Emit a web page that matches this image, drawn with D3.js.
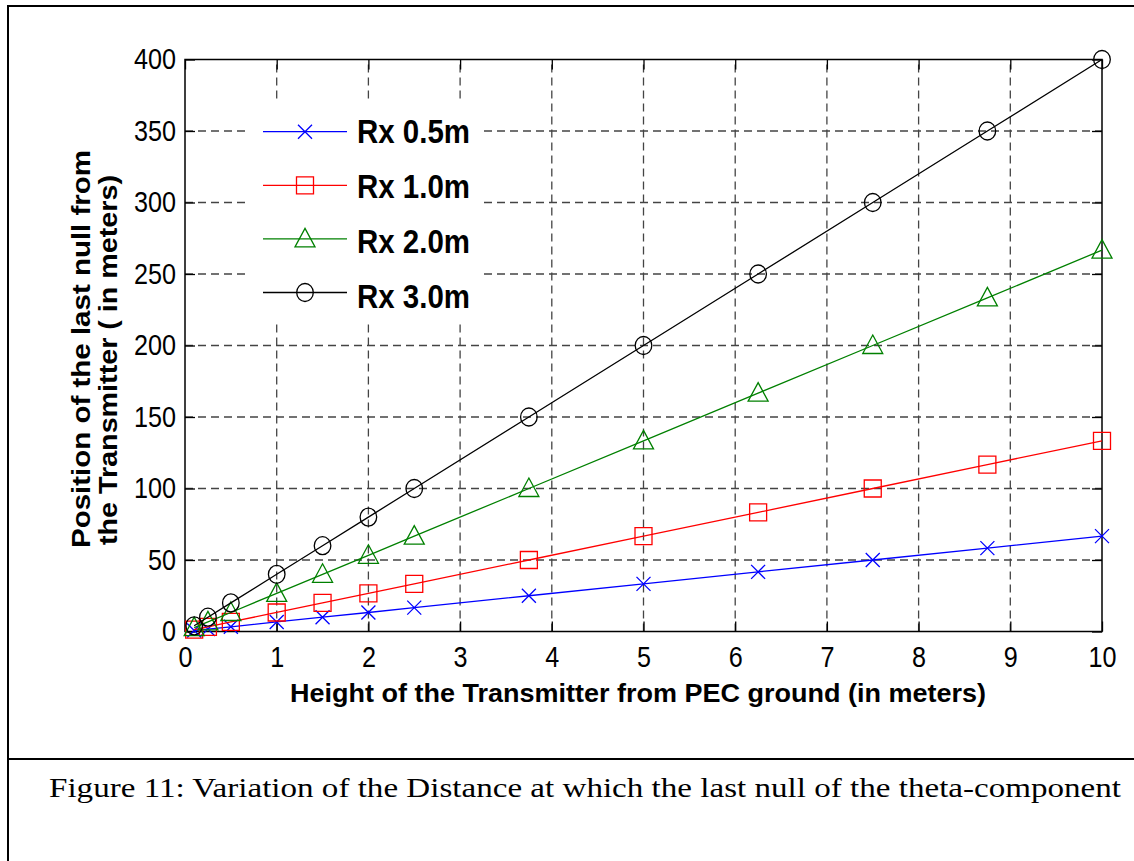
<!DOCTYPE html>
<html>
<head>
<meta charset="utf-8">
<script src="https://cdn.jsdelivr.net/npm/d3@7"></script>
<style>
  body { margin: 0; background: #fff; }
  svg { display: block; }
  .caption { font-family: "Liberation Serif", "Times New Roman", Times, "Nimbus Roman", serif; }
</style>
</head>
<body>
<svg id="chart" width="1134" height="861"></svg>
<script>
// Data
const heights = [0.1, 0.25, 0.5, 1, 1.5, 2, 2.5, 3.75, 5, 6.25, 7.5, 8.75, 10];
const rx05 = [0.7, 1.7, 3.3, 6.7, 10, 13.3, 16.7, 25, 33.3, 41.7, 50, 58.3, 66.7];
const rx10 = [1.3, 3.3, 6.7, 13.3, 20, 26.7, 33.3, 50, 66.7, 83.3, 100, 116.7, 133.3];
const rx20 = [2.7, 6.7, 13.3, 26.7, 40, 53.3, 66.7, 100, 133.3, 166.7, 200, 233.3, 266.7];
const rx30 = [4, 10, 20, 40, 60, 80, 100, 150, 200, 250, 300, 350, 400];

const seriesNames = ['Rx 0.5m', 'Rx 1.0m', 'Rx 2.0m', 'Rx 3.0m'];
const seriesValues = [rx05, rx10, rx20, rx30];
const seriesColors = ['#0000ff', '#ff0000', '#008000', '#000000'];
const seriesMarkers = ['x', 'square', 'triangle', 'circle'];

const xTicks = [0, 1, 2, 3, 4, 5, 6, 7, 8, 9, 10];
const yTicks = [0, 50, 100, 150, 200, 250, 300, 350, 400];

const xLabel = 'Height of the Transmitter from PEC ground (in meters)';
const yLabel = ['Position of the last null from', 'the Transmitter ( in meters)'];
const caption = 'Figure 11: Variation of the Distance at which the last null of the theta-component';

(function(d3) {
  const sans = '"Liberation Sans", Arial, sans-serif';
  const plot = { left: 185, right: 1102, top: 59.5, bottom: 631.5 };

  const svg = d3.select('#chart');

  // frame around figure + caption cell
  const frame = svg.append('g').attr('stroke', '#000').attr('stroke-width', 2);
  frame.append('line').attr('x1', 7).attr('x2', 1134).attr('y1', 6).attr('y2', 6);
  frame.append('line').attr('x1', 8).attr('x2', 8).attr('y1', 5).attr('y2', 861);
  frame.append('line').attr('x1', 8).attr('x2', 1134).attr('y1', 759).attr('y2', 759);

  const x = d3.scaleLinear().domain([0, 10]).range([plot.left, plot.right]);
  const y = d3.scaleLinear().domain([0, 400]).range([plot.bottom, plot.top]);

  // grid
  const grid = svg.append('g')
    .attr('stroke', '#444')
    .attr('stroke-width', 1.3)
    .attr('stroke-dasharray', '8,5');
  grid.selectAll('.vgrid')
    .data(xTicks.slice(1, -1))
    .enter().append('line')
    .attr('x1', d => x(d)).attr('x2', d => x(d))
    .attr('y1', y(0)).attr('y2', y(400));
  grid.selectAll('.hgrid')
    .data(yTicks.slice(1, -1))
    .enter().append('line')
    .attr('x1', x(0)).attr('x2', x(10))
    .attr('y1', d => y(d)).attr('y2', d => y(d));

  // axes, ticks pointing inward (matlab style)
  const styleAxis = g => {
    g.select('.domain').remove();
    g.selectAll('.tick line').attr('stroke', '#000').attr('stroke-width', 1.3);
    g.selectAll('.tick text')
      .attr('fill', '#000')
      .attr('font-family', sans)
      .attr('font-size', 29)
      .attr('lengthAdjust', 'spacingAndGlyphs')
      .attr('textLength', function() { return 14 * this.textContent.length; });
  };

  svg.append('g')
    .attr('transform', `translate(0,${plot.bottom})`)
    .call(d3.axisBottom(x).tickValues(xTicks).tickSizeInner(-10).tickSizeOuter(0).tickPadding(15))
    .call(styleAxis);
  svg.append('g')
    .attr('transform', `translate(${plot.left},0)`)
    .call(d3.axisLeft(y).tickValues(yTicks).tickSizeInner(-10).tickSizeOuter(0).tickPadding(9))
    .call(styleAxis);
  svg.append('g')
    .attr('transform', `translate(0,${plot.top})`)
    .call(d3.axisTop(x).tickValues(xTicks).tickSizeInner(-10).tickSizeOuter(0).tickFormat(''))
    .call(styleAxis);
  svg.append('g')
    .attr('transform', `translate(${plot.right},0)`)
    .call(d3.axisRight(y).tickValues(yTicks).tickSizeInner(-10).tickSizeOuter(0).tickFormat(''))
    .call(styleAxis);

  svg.append('rect')
    .attr('x', plot.left).attr('y', plot.top)
    .attr('width', plot.right - plot.left).attr('height', plot.bottom - plot.top)
    .attr('fill', 'none').attr('stroke', '#000').attr('stroke-width', 1.5);

  // marker shapes
  function markerPath(type) {
    switch (type) {
      case 'x':
        return 'M-7,-7L7,7M-7,7L7,-7';
      case 'square':
        return 'M-8.5,-8.5H8.5V8.5H-8.5Z';
      case 'triangle':
        return 'M0,-10.5L10,8L-10,8Z';
      default:
        return 'M-8.3,0A8.3,9 0 1,0 8.3,0A8.3,9 0 1,0 -8.3,0Z';
    }
  }

  const line = d3.line().x(d => x(d[0])).y(d => y(d[1]));

  seriesValues.forEach((vals, i) => {
    const pts = heights.map((h, j) => [h, vals[j]]);
    const g = svg.append('g').attr('class', 'series');
    g.append('path')
      .datum(pts)
      .attr('d', line)
      .attr('fill', 'none')
      .attr('stroke', seriesColors[i])
      .attr('stroke-width', 1.3);
    g.selectAll('.mark')
      .data(pts)
      .enter().append('path')
      .attr('class', 'mark')
      .attr('transform', d => `translate(${x(d[0])},${y(d[1])})`)
      .attr('d', markerPath(seriesMarkers[i]))
      .attr('fill', 'none')
      .attr('stroke', seriesColors[i])
      .attr('stroke-width', 1.3);
  });

  // legend (white box, no border)
  const legend = svg.append('g');
  legend.append('rect')
    .attr('x', 247).attr('y', 100)
    .attr('width', 234).attr('height', 222)
    .attr('fill', '#fff');
  seriesNames.forEach((name, i) => {
    const ly = 131.7 + i * 53.6;
    const ty = 131 + i * 55;
    legend.append('line')
      .attr('x1', 263).attr('x2', 347)
      .attr('y1', ly).attr('y2', ly)
      .attr('stroke', seriesColors[i]).attr('stroke-width', 1.3);
    legend.append('path')
      .attr('transform', `translate(305,${ly})`)
      .attr('d', markerPath(seriesMarkers[i]))
      .attr('fill', 'none')
      .attr('stroke', seriesColors[i])
      .attr('stroke-width', 1.3);
    legend.append('text')
      .attr('x', 357).attr('y', ty + 12)
      .attr('font-family', sans)
      .attr('font-weight', 'bold')
      .attr('font-size', 34)
      .attr('textLength', 113)
      .attr('lengthAdjust', 'spacingAndGlyphs')
      .text(name);
  });

  // axis labels
  svg.append('text')
    .attr('x', 638).attr('y', 702)
    .attr('text-anchor', 'middle')
    .attr('font-family', sans)
    .attr('font-weight', 'bold')
    .attr('font-size', 26)
    .attr('textLength', 696)
    .attr('lengthAdjust', 'spacingAndGlyphs')
    .text(xLabel);

  const yLines = [
    { bx: 90, cy: 349, len: 398 },
    { bx: 117, cy: 360, len: 370 },
  ];
  yLabel.forEach((t, i) => {
    svg.append('text')
      .attr('transform', `translate(${yLines[i].bx},${yLines[i].cy}) rotate(-90)`)
      .attr('text-anchor', 'middle')
      .attr('font-family', sans)
      .attr('font-weight', 'bold')
      .attr('font-size', 25)
      .attr('textLength', yLines[i].len)
      .attr('lengthAdjust', 'spacingAndGlyphs')
      .text(t);
  });

  // caption
  svg.append('text')
    .attr('class', 'caption')
    .attr('x', 49).attr('y', 797)
    .attr('font-size', 28)
    .attr('textLength', 1072)
    .attr('lengthAdjust', 'spacingAndGlyphs')
    .text(caption);
})(d3);
</script>
</body>
</html>
